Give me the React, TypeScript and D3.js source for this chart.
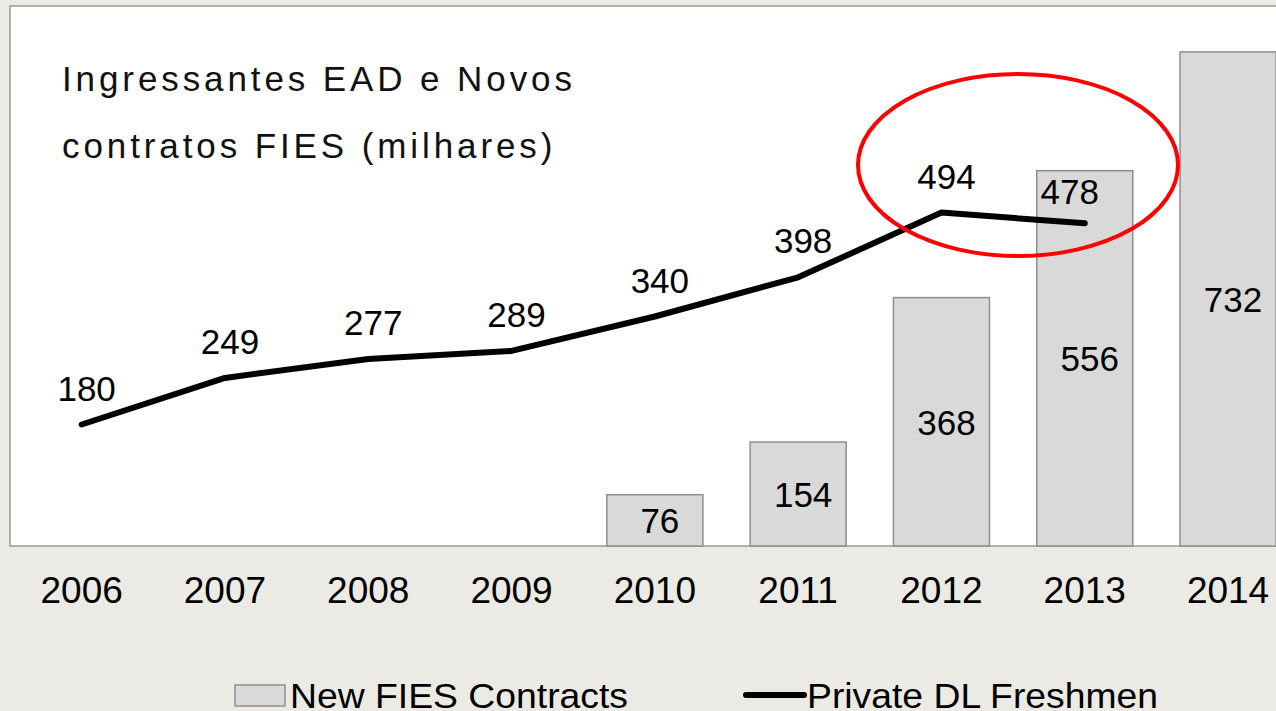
import React from "react";
import * as d3 from "d3";

const years = ["2006", "2007", "2008", "2009", "2010", "2011", "2012", "2013", "2014"];
const fiesYears = ["2010", "2011", "2012", "2013", "2014"];
const fiesValues = [76, 154, 368, 556, 732];
const dlYears = ["2006", "2007", "2008", "2009", "2010", "2011", "2012", "2013"];
const dlValues = [180, 249, 277, 289, 340, 398, 494, 478];
const titleLines = ["Ingressantes EAD e Novos", "contratos FIES (milhares)"];
const legendLabels = ["New FIES Contracts", "Private DL Freshmen"];

const W = 1276;
const H = 711;
const plotLeft = 10;
const plotTop = 6;
const plotBottom = 546;
const step = 143.3;

export default function App() {
  const x = d3
    .scaleBand<string>()
    .domain(years)
    .range([plotLeft, plotLeft + step * years.length])
    .paddingInner(0.33)
    .paddingOuter(0.165);
  const xc = (c: string) => (x(c) as number) + x.bandwidth() / 2;
  const y = d3.scaleLinear().domain([0, 800]).range([plotBottom, plotTop]);

  const line = d3
    .line<number>()
    .x((_, i) => xc(dlYears[i]))
    .y((d) => y(d));

  const font = "Liberation Sans, Arial, sans-serif";

  return (
    <svg
      width={W}
      height={H}
      style={{ position: "absolute", left: 0, top: 0, display: "block" }}
      fontFamily={font}
    >
      <rect x={0} y={0} width={W} height={H} fill="#ebeae4" />
      <rect
        x={plotLeft}
        y={plotTop}
        width={step * years.length}
        height={plotBottom - plotTop}
        fill="#ffffff"
        stroke="#9a9a9a"
        strokeWidth={1.5}
      />
      {titleLines.map((t, i) => (
        <text
          key={t}
          x={62}
          y={91 + i * 67}
          fontSize={35}
          letterSpacing={3.9}
          fill="#111"
        >
          {t}
        </text>
      ))}
      {fiesValues.map((v, i) => {
        const c = fiesYears[i];
        return (
          <g key={c}>
            <rect
              x={x(c)}
              y={y(v)}
              width={x.bandwidth()}
              height={plotBottom - y(v)}
              fill="#d9d9d9"
              stroke="#8e8e8e"
              strokeWidth={1.5}
            />
            <text
              x={xc(c) + 5}
              y={(y(v) + plotBottom) / 2 + 13}
              fontSize={35}
              textAnchor="middle"
              fill="#000"
            >
              {v}
            </text>
          </g>
        );
      })}
      <path
        d={line(dlValues) || ""}
        fill="none"
        stroke="#000"
        strokeWidth={6}
        strokeLinecap="round"
        strokeLinejoin="round"
      />
      {dlValues.map((v, i) => {
        const c = dlYears[i];
        const last = i === dlValues.length - 1;
        return (
          <text
            key={c}
            x={xc(c) + (last ? -15 : 5)}
            y={y(v) - (last ? 19 : 24)}
            fontSize={35}
            textAnchor="middle"
            fill="#000"
          >
            {v}
          </text>
        );
      })}
      <ellipse
        cx={1018}
        cy={165}
        rx={160}
        ry={91}
        fill="none"
        stroke="#ff0000"
        strokeWidth={4}
      />
      {years.map((c) => (
        <text
          key={c}
          x={xc(c)}
          y={603}
          fontSize={37}
          textAnchor="middle"
          fill="#000"
        >
          {c}
        </text>
      ))}
      <rect x={235} y={685} width={50} height={21} fill="#d9d9d9" stroke="#8e8e8e" strokeWidth={1.5} />
      <text x={290} y={708} fontSize={35} fill="#000" textLength={338} lengthAdjust="spacingAndGlyphs">
        {legendLabels[0]}
      </text>
      <line x1={746} x2={804} y1={695} y2={695} stroke="#000" strokeWidth={6} strokeLinecap="round" />
      <text x={807} y={708} fontSize={35} fill="#000" textLength={351} lengthAdjust="spacingAndGlyphs">
        {legendLabels[1]}
      </text>
    </svg>
  );
}
